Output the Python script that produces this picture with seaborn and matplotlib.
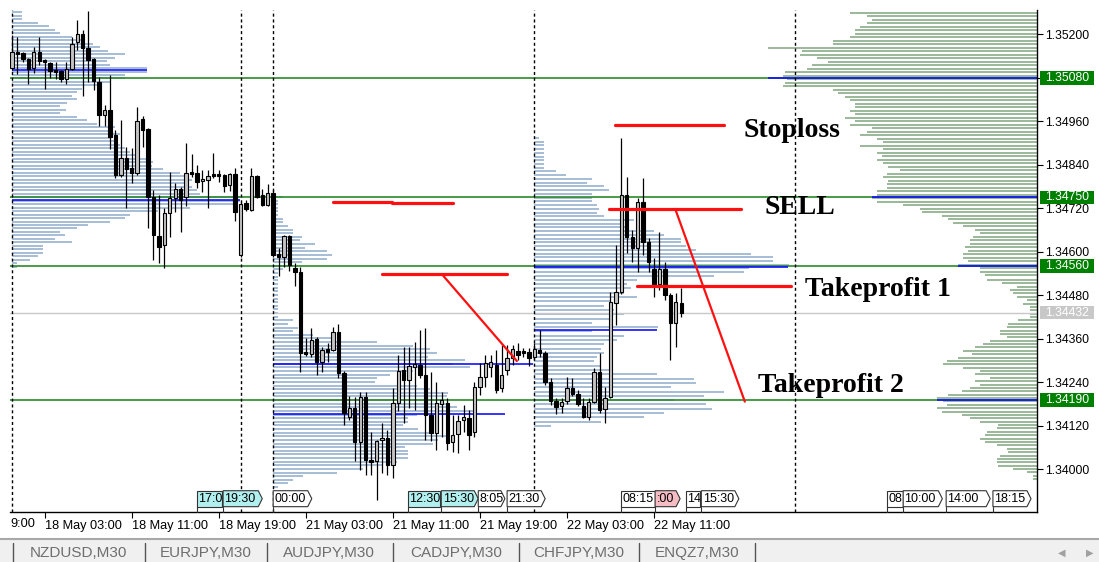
import numpy as np
import pandas as pd
import matplotlib
matplotlib.use("Agg")
import matplotlib.pyplot as plt
import matplotlib.transforms as mtransforms
from matplotlib.patches import Polygon, Rectangle
import seaborn as sns

# ---------------- candle data (M30 bars, bar 0 = 18 May 00:00) ----------------
opens = [1.35107, 1.35151, 1.35148, 1.35132, 1.35107, 1.35151, 1.35129, 1.35121, 1.35101, 1.35098,
         1.35076, 1.35104, 1.35179, 1.35201, 1.35162, 1.35132, 1.35068, 1.34977, 1.34991, 1.34922,
         1.34811, 1.34858, 1.34831, 1.34817, 1.34966, 1.34938, 1.34751, 1.34643, 1.34618, 1.34707,
         1.34748, 1.34773, 1.34751, 1.34820, 1.34817, 1.34795, 1.34798, 1.34814, 1.34814, 1.34811,
         1.34784, 1.34814, 1.34591, 1.34734, 1.34715, 1.34809, 1.34756, 1.34729, 1.34762, 1.34593,
         1.34585, 1.34643, 1.34555, 1.34544, 1.34323, 1.34317, 1.34359, 1.34295, 1.34331, 1.34328,
         1.34378, 1.34265, 1.34144, 1.34168, 1.34075, 1.34199, 1.34025, 1.34022, 1.34080, 1.34086,
         1.34011, 1.34182, 1.34273, 1.34246, 1.34282, 1.34287, 1.34259, 1.34149, 1.34099, 1.34179,
         1.34182, 1.34075, 1.34097, 1.34135, 1.34141, 1.34102, 1.34226, 1.34254, 1.34282, 1.34287,
         1.34224, 1.34273, 1.34306, 1.34326, 1.34326, 1.34323, 1.34309, 1.34328, 1.34320, 1.34240,
         1.34188, 1.34174, 1.34188, 1.34224, 1.34207, 1.34174, 1.34144, 1.34185, 1.34268, 1.34166,
         1.34199, 1.34458, 1.34489, 1.34756, 1.34640, 1.34610, 1.34737, 1.34627, 1.34552, 1.34511,
         1.34552, 1.34480, 1.34403, 1.34458]
highs = [1.35198, 1.35192, 1.35151, 1.35134, 1.35165, 1.35192, 1.35132, 1.35123, 1.35123, 1.35101,
         1.35123, 1.35192, 1.35239, 1.35212, 1.35264, 1.35134, 1.35082, 1.35005, 1.35087, 1.34936,
         1.34963, 1.34889, 1.34886, 1.34999, 1.34974, 1.34941, 1.34770, 1.34756, 1.34720, 1.34820,
         1.34789, 1.34778, 1.34900, 1.34869, 1.34839, 1.34825, 1.34825, 1.34872, 1.34825, 1.34814,
         1.34817, 1.34831, 1.34737, 1.34742, 1.34831, 1.34811, 1.34773, 1.34787, 1.34770, 1.34610,
         1.34646, 1.34646, 1.34569, 1.34558, 1.34362, 1.34389, 1.34364, 1.34337, 1.34348, 1.34392,
         1.34400, 1.34270, 1.34201, 1.34199, 1.34213, 1.34213, 1.34102, 1.34080, 1.34127, 1.34108,
         1.34224, 1.34315, 1.34337, 1.34337, 1.34351, 1.34384, 1.34389, 1.34268, 1.34240, 1.34213,
         1.34196, 1.34149, 1.34149, 1.34177, 1.34163, 1.34240, 1.34293, 1.34315, 1.34315, 1.34328,
         1.34342, 1.34342, 1.34342, 1.34348, 1.34334, 1.34334, 1.34348, 1.34384, 1.34326, 1.34251,
         1.34196, 1.34196, 1.34254, 1.34251, 1.34218, 1.34196, 1.34196, 1.34279, 1.34320, 1.34226,
         1.34489, 1.34618, 1.34914, 1.34806, 1.34660, 1.34748, 1.34803, 1.34638, 1.34582, 1.34654,
         1.34571, 1.34486, 1.34486, 1.34500]
lows = [1.35101, 1.35090, 1.35123, 1.35063, 1.35093, 1.35115, 1.35049, 1.35079, 1.35076, 1.35068,
        1.35063, 1.35101, 1.35156, 1.35029, 1.35068, 1.35046, 1.34947, 1.34947, 1.34883, 1.34803,
        1.34806, 1.34720, 1.34789, 1.34811, 1.34889, 1.34665, 1.34577, 1.34569, 1.34555, 1.34640,
        1.34709, 1.34654, 1.34726, 1.34806, 1.34776, 1.34765, 1.34720, 1.34803, 1.34792, 1.34765,
        1.34767, 1.34684, 1.34585, 1.34712, 1.34712, 1.34748, 1.34726, 1.34726, 1.34585, 1.34533,
        1.34558, 1.34546, 1.34505, 1.34268, 1.34312, 1.34309, 1.34259, 1.34268, 1.34295, 1.34326,
        1.34251, 1.34121, 1.34135, 1.34022, 1.33997, 1.33983, 1.33983, 1.33914, 1.33989, 1.33983,
        1.33975, 1.34160, 1.34127, 1.34168, 1.34163, 1.34251, 1.34080, 1.34077, 1.34052, 1.34088,
        1.34052, 1.34047, 1.34044, 1.34102, 1.34052, 1.34088, 1.34204, 1.34226, 1.34254, 1.34210,
        1.34213, 1.34259, 1.34287, 1.34301, 1.34309, 1.34284, 1.34301, 1.34309, 1.34232, 1.34177,
        1.34152, 1.34155, 1.34179, 1.34201, 1.34174, 1.34141, 1.34135, 1.34182, 1.34155, 1.34127,
        1.34196, 1.34397, 1.34483, 1.34596, 1.34571, 1.34544, 1.34591, 1.34544, 1.34475, 1.34494,
        1.34466, 1.34301, 1.34337, 1.34420]
closes = [1.35151, 1.35145, 1.35132, 1.35104, 1.35151, 1.35126, 1.35123, 1.35098, 1.35096, 1.35076,
          1.35104, 1.35173, 1.35201, 1.35162, 1.35129, 1.35071, 1.34977, 1.34991, 1.34916, 1.34811,
          1.34858, 1.34828, 1.34817, 1.34960, 1.34936, 1.34751, 1.34646, 1.34613, 1.34707, 1.34748,
          1.34773, 1.34742, 1.34817, 1.34814, 1.34792, 1.34800, 1.34809, 1.34809, 1.34809, 1.34781,
          1.34814, 1.34709, 1.34731, 1.34718, 1.34809, 1.34751, 1.34729, 1.34762, 1.34591, 1.34585,
          1.34643, 1.34563, 1.34544, 1.34320, 1.34317, 1.34356, 1.34295, 1.34328, 1.34323, 1.34378,
          1.34265, 1.34155, 1.34168, 1.34075, 1.34199, 1.34025, 1.34019, 1.34077, 1.34086, 1.34011,
          1.34182, 1.34270, 1.34246, 1.34284, 1.34290, 1.34259, 1.34149, 1.34099, 1.34182, 1.34190,
          1.34072, 1.34094, 1.34132, 1.34144, 1.34094, 1.34226, 1.34254, 1.34293, 1.34295, 1.34218,
          1.34259, 1.34306, 1.34331, 1.34315, 1.34320, 1.34306, 1.34331, 1.34320, 1.34240, 1.34188,
          1.34171, 1.34185, 1.34224, 1.34207, 1.34179, 1.34144, 1.34185, 1.34268, 1.34163, 1.34196,
          1.34461, 1.34489, 1.34756, 1.34640, 1.34610, 1.34737, 1.34627, 1.34571, 1.34511, 1.34552,
          1.34480, 1.34403, 1.34461, 1.34432]

time_tick_bars = [6, 22, 38, 54, 70, 86, 102, 118]
time_tick_labels = ["18 May 03:00", "18 May 11:00", "18 May 19:00", "21 May 03:00",
                    "21 May 11:00", "21 May 19:00", "22 May 03:00", "22 May 11:00"]
first_partial_label = "9:00"

price_ticks = [1.34000, 1.34120, 1.34240, 1.34360, 1.34480, 1.34600, 1.34720,
               1.34840, 1.34960, 1.35080, 1.35200]
level_prices = [1.35080, 1.34750, 1.34560, 1.34190]
last_price = 1.34432
session_bars = [0, 42, 48, 96, 144]

# ---------------- volume profiles (row lengths) ----------------
prof1_start, prof1_top, prof1_bottom = 0, 1.35261, 1.34558
prof1_vol = [10, 10, 10, 26, 37, 43, 48, 60, 70, 81, 88, 96, 113, 103, 95, 98, 135, 135, 113, 113,
             98, 88, 70, 65, 60, 65, 55, 48, 54, 48, 65, 75, 85, 103, 98, 108, 98, 103, 108, 113,
             118, 125, 135, 141, 140, 151, 168, 173, 180, 175, 180, 185, 188, 228, 228, 221, 178, 146,
             118, 113, 98, 76, 65, 48, 53, 43, 60, 31, 31, 31, 26, 18, 5, 5]
prof2_start, prof2_top, prof2_bottom = 48, 1.34751, 1.33950
prof2_vol = [10, 5, 5, 5, 5, 5, 10, 10, 15, 20, 20, 29, 27, 42, 32, 54, 59, 54, 29, 20, 10,
             5, 5, 5, 5, 5, 5, 5, 5, 5, 5, 5, 5, 5,
             20, 15, 25, 20, 40,
             60, 104, 140, 157, 164, 155, 192, 180, 197, 140, 117, 104, 102, 144, 157, 175, 174, 170,
             177, 184, 200, 144, 135, 135, 130, 145, 159, 177, 165, 160, 132, 135, 135, 135, 124, 110,
             90, 64, 30, 20, 15, 5]
prof3_start = 96
prof3a_top, prof3a_bottom = 1.34914, 1.34533
prof3a_vol = [5, 10, 10, 10, 10, 10, 10, 10, 10, 22, 32, 58, 53, 70, 75, 58, 58, 58, 63, 65, 63, 70,
              100, 90, 92, 120, 130, 147, 147, 152, 162, 217, 239, 239, 255, 215, 210, 180]
prof3b_top, prof3b_bottom = 1.34522, 1.34119
prof3b_vol = [103, 93, 97, 90, 103, 77, 70, 80, 90, 77, 58, 124, 58, 90, 83, 70, 67, 70, 63, 60, 67,
              77, 123, 160, 162, 137, 190, 170, 140, 172, 178, 130, 110, 67, 17]
right_a_top, right_a_bottom = 1.35259, 1.34535
right_a_vol = [187, 170, 165, 170, 177, 182, 182, 187, 204, 204, 269, 235, 237, 220, 209, 225, 230, 252,
               254, 250, 252, 254, 204, 199, 192, 187, 182, 182, 187, 182, 192, 182, 187, 165, 170, 177,
               160, 154, 177, 154, 160, 155, 160, 154, 149, 137, 150, 154, 149, 150, 150, 160, 160, 165,
               160, 134, 117, 115, 95, 89, 84, 74, 62, 57, 64, 67, 67, 72, 69, 74, 74, 69, 79, 57, 57, 52]
right_b_top, right_b_bottom = 1.34522, 1.33972
right_b_vol = [50, 35, 20, 27, 24, 20, 10, 14, 7, 7, 7, 7, 19, 29, 30, 37, 37, 30, 47, 54, 62, 74, 65,
               79, 90, 94, 74, 57, 62, 47, 62, 57, 67, 75, 89, 100, 94, 90, 100, 95, 75, 67, 57, 39, 40,
               50, 52, 57, 52, 40, 30, 29, 37, 40, 40, 39, 24, 10, 4, 4]

# POC / level segments (price, start bar, end bar)
blue_prices = [1.35101, 1.34742, 1.34290, 1.34152, 1.34384, 1.34558, 1.35080, 1.34750, 1.34560, 1.34190]
blue_start = [0, 0, 48, 48, 96, 96, 139.0, 158.1, 173.9, 170.0]
blue_end = [24.8, 41.9, 95.8, 90.6, 118.6, 142.6, None, None, None, None]

# trade drawing (red)
red_h = [  # x0, x1, price
    (59.0, 69.9, 1.34738), (69.9, 81.1, 1.34733), (68.0, 91.0, 1.34538),
    (110.8, 130.9, 1.34949), (109.7, 134.0, 1.34718), (114.9, 143.2, 1.34506)]
red_d = [  # x0, p0, x1, p1
    (79.0, 1.34538, 92.8, 1.34298), (121.9, 1.34718, 134.7, 1.34186)]
trade_labels = ["Stoploss", "SELL", "Takeprofit 1", "Takeprofit 2"]
trade_label_x = [134.4, 138.4, 145.8, 137.1]
trade_label_y = [1.34916, 1.34704, 1.34477, 1.34213]

# event markers along the time axis (x0, x1, visible text, colour, arrow)
events = [(34.0, 38.6, "17:0", "cyan", False), (38.8, 46.0, "19:30", "cyan", True),
          (48.0, 55.1, "00:00", "white", True), (72.8, 78.7, "12:30", "cyan", False),
          (78.9, 85.7, "15:30", "cyan", True), (85.7, 90.6, "8:05", "white", True),
          (91.0, 98.0, "21:30", "white", True), (111.9, 118.2, "08:15", "white", False),
          (118.2, 122.8, ":00", "pink", True), (123.9, 126.5, "14", "white", False),
          (126.7, 133.6, "15:30", "white", True), (160.8, 163.8, "08", "white", False),
          (163.8, 171.0, "10:00", "white", True), (171.7, 179.8, "14:00", "white", True),
          (180.3, 187.3, "18:15", "white", True)]
event_colors = {"cyan": "#b2f0f0", "white": "#ffffff", "pink": "#f6bcc4"}

tabs = ["NZDUSD,M30", "EURJPY,M30", "AUDJPY,M30", "CADJPY,M30", "CHFJPY,M30", "ENQZ7,M30"]

# ---------------- figure ----------------
sns.set_theme(style="white")
plt.rcParams['font.family'] = ['Liberation Sans', 'DejaVu Sans']

W, H = 1099, 562
fig = plt.figure(figsize=(W / 100, H / 100), dpi=100)
bg = fig.add_axes([0, 0, 1, 1], zorder=0)
bg.set_xlim(0, W); bg.set_ylim(H, 0); bg.axis('off')

ax = fig.add_axes([10 / W, 1 - 512 / H, 1027 / W, 502 / H], zorder=1)
XMIN, XMAX = -0.37, 188.4
ax.set_xlim(XMIN, XMAX)
ax.set_ylim(1.338813, 1.352671)
PX_PER_BAR = 5.44

prof_blue = "#9fb6d2"
prof_green = "#92b292"

def draw_profile(start, top, bottom, vol, color, right=False):
    prices = np.linspace(top, bottom, len(vol))
    lengths = np.array(vol, dtype=float) / PX_PER_BAR
    if right:
        ax.hlines(prices, XMAX - lengths, XMAX, color=color, lw=1.3, zorder=1)
    else:
        ax.hlines(prices, start, start + lengths, color=color, lw=1.3, zorder=1)

draw_profile(prof1_start, prof1_top, prof1_bottom, prof1_vol, prof_blue)
draw_profile(prof2_start, prof2_top, prof2_bottom, prof2_vol, prof_blue)
draw_profile(prof3_start, prof3a_top, prof3a_bottom, prof3a_vol, prof_blue)
draw_profile(prof3_start, prof3b_top, prof3b_bottom, prof3b_vol, prof_blue)
draw_profile(None, right_a_top, right_a_bottom, right_a_vol, prof_green, right=True)
draw_profile(None, right_b_top, right_b_bottom, right_b_vol, prof_green, right=True)

# level lines
ax.axhline(last_price, color="#c8c8c8", lw=1.0, zorder=2)
for p in level_prices:
    ax.axhline(p, color="#2a8a2a", lw=1.2, zorder=2)
for p, x0, x1 in zip(blue_prices, blue_start, blue_end):
    ax.hlines(p, x0, XMAX if x1 is None else x1, color="#1010ff", lw=1.2, zorder=2.2)

# session separators
for b in session_bars:
    ax.axvline(b, color="black", lw=1.0, ls=(0, (2.2, 2.0)), zorder=2.5)

# candles
x = np.arange(len(opens))
o = np.array(opens); h = np.array(highs); l = np.array(lows); c = np.array(closes)
ax.vlines(x, l, h, color="black", lw=0.9, zorder=4)
bull = c >= o
body_bottom = np.minimum(o, c)
body_h = np.maximum(np.abs(c - o), 0.000018)
ax.bar(x[bull], body_h[bull], bottom=body_bottom[bull], width=0.62, color="#c4c4c4",
       edgecolor="black", linewidth=0.8, zorder=4.5)
ax.bar(x[~bull], body_h[~bull], bottom=body_bottom[~bull], width=0.62, color="black",
       edgecolor="black", linewidth=0.8, zorder=4.5)

# red trade lines (seaborn)
rows = []
for i, (x0, x1, p) in enumerate(red_h):
    rows += [dict(x=x0, y=p, seg=i), dict(x=x1, y=p, seg=i)]
df_h = pd.DataFrame(rows)
sns.lineplot(data=df_h, x="x", y="y", units="seg", estimator=None, sort=False,
             color="#ff1010", lw=2.3, ax=ax, zorder=6)
rows = []
for i, (x0, p0, x1, p1) in enumerate(red_d):
    rows += [dict(x=x0, y=p0, seg=i), dict(x=x1, y=p1, seg=i)]
df_d = pd.DataFrame(rows)
sns.lineplot(data=df_d, x="x", y="y", units="seg", estimator=None, sort=False,
             color="#ff1010", lw=1.6, ax=ax, zorder=6)
ax.set_xlabel(""); ax.set_ylabel("")
ax.set_xlim(XMIN, XMAX)
ax.set_ylim(1.338813, 1.352671)

for t, tx, ty in zip(trade_labels, trade_label_x, trade_label_y):
    ax.text(tx, ty, t, fontsize=20, fontweight="bold", family=["Liberation Serif", "DejaVu Serif"],
            ha="left", va="baseline", color="black", zorder=7)

# event marker boxes
btr = mtransforms.blended_transform_factory(ax.transData, ax.transAxes)
yb, yt = 0.0106, 0.0424
ym = (yb + yt) / 2
tip = 0.74
for k, (x0, x1, txt, col, arrow) in enumerate(events):
    if arrow:
        pts = [(x0, yb), (x1 - tip, yb), (x1, ym), (x1 - tip, yt), (x0, yt)]
    else:
        pts = [(x0, yb), (x1, yb), (x1, yt), (x0, yt)]
    poly = Polygon(pts, closed=True, transform=btr, facecolor=event_colors[col],
                   edgecolor="#333333", lw=0.8, zorder=8 + k * 0.01, clip_on=False)
    ax.add_patch(poly)
    ax.plot([x0, x0], [0, yb], transform=btr, color="#333333", lw=0.8, zorder=8, clip_on=False)
    tt = ax.text(x0 + 0.25, ym, txt, transform=btr, fontsize=9, ha="left", va="center",
                 color="black", zorder=8 + k * 0.01 + 0.005)
    tt.set_clip_path(poly)

# axes styling
for s in ["left", "top"]:
    ax.spines[s].set_visible(False)
for s in ["bottom", "right"]:
    ax.spines[s].set_color("black"); ax.spines[s].set_linewidth(1.0)
ax.yaxis.tick_right()
ax.set_yticks(price_ticks)
ax.set_yticklabels([f"{p:.5f}" for p in price_ticks])
ax.tick_params(axis="y", right=True, left=False, length=4, width=0.8, pad=2, labelsize=8.8,
               colors="black")
ax.set_xticks(time_tick_bars)
ax.set_xticklabels(time_tick_labels, ha="left")
ax.tick_params(axis="x", bottom=True, length=4, width=0.8, pad=2, labelsize=9.2, colors="black")
ax.grid(False)

# level boxes on price axis
ytr = mtransforms.blended_transform_factory(ax.transAxes, ax.transData)
bx0 = (1040 - 10) / 1027
bw = 54 / 1027
bh = 13.5 * 2.7605e-5
for p in level_prices + [last_price]:
    fc = "#c8c8c8" if p == last_price else "#008000"
    ax.add_patch(Rectangle((bx0, p - bh / 2), bw, bh, transform=ytr, facecolor=fc,
                           edgecolor="none", zorder=9, clip_on=False))
    ax.text(bx0 + bw / 2, p, f"{p:.5f}", transform=ytr, ha="center", va="center",
            fontsize=8.8, color="white", zorder=10, clip_on=False)

# partial first time label
bg.text(10, 524, first_partial_label, fontsize=9.2, ha="left", va="center", color="black")

# tab bar
bg.add_patch(Rectangle((0, 539), W, H - 539, facecolor="#f0f0f0", edgecolor="none"))
bg.plot([0, W], [538.5, 538.5], color="#a8a8a8", lw=1.5)
for sx in [13, 145, 267, 393, 519, 639, 755]:
    bg.plot([sx, sx], [543, 562], color="#555555", lw=1.0)
for tx, t in zip([30, 160, 283, 410, 533, 655], tabs):
    bg.text(tx, 553, t, fontsize=11, color="#6e6e6e", ha="left", va="center")
bg.text(1062, 553, "\u25C0", fontsize=7, color="#a0a0a0", ha="center", va="center",
        family=["DejaVu Sans"])
bg.text(1090, 553, "\u25B6", fontsize=7, color="#a0a0a0", ha="center", va="center",
        family=["DejaVu Sans"])

fig.savefig("out.png", dpi=100)
